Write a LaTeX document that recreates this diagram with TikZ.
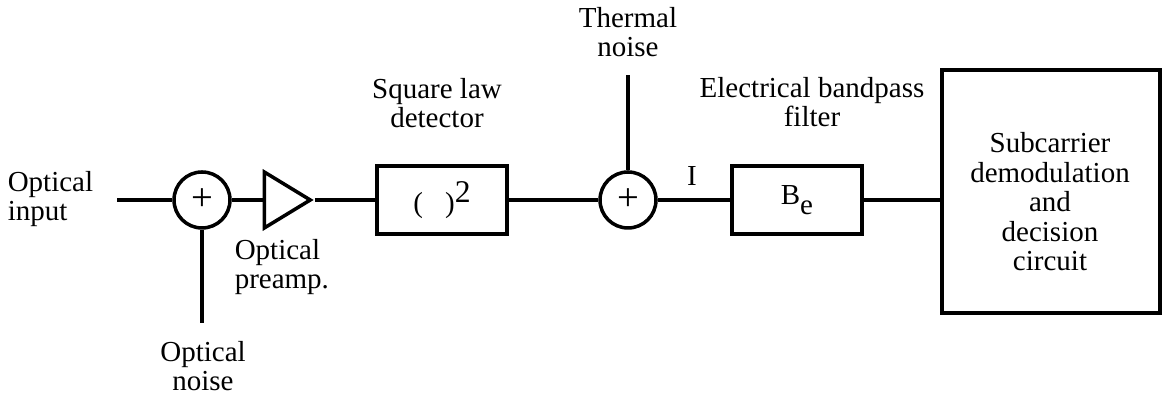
\documentclass[tikz,border=0pt]{standalone}
\usepackage{fontspec}
\setmainfont{Liberation Serif}
\usetikzlibrary{shapes.geometric}
\begin{document}
\begin{tikzpicture}[line width=1pt,
  blk/.style={draw,rectangle,minimum width=1.30cm,minimum height=0.68cm,inner sep=0pt},
  sum/.style={draw,circle,minimum size=0.56cm,inner sep=0pt,font=\fontsize{11}{11}\selectfont},
  lbl/.style={align=center,inner sep=0pt},
  every node/.append style={font=\fontsize{8.25}{8.4}\selectfont}]
\useasboundingbox (0,0) rectangle (11.63,4.02);
\coordinate (in) at (1.17,2.02);
\node[sum] (sum1) at (2.02,2.02) {+};
\node[draw,isosceles triangle,isosceles triangle stretches,minimum width=0.56cm,minimum height=0.46cm,inner sep=0pt] (amp) at (2.80,2.02) {};
\node[blk] (sq) at (4.42,2.02) {(\hspace{0.22cm})\raisebox{0.8ex}{\fontsize{9}{9}\selectfont 2}};
\node[sum] (sum2) at (6.28,2.02) {+};
\node[blk] (filt) at (7.97,2.02) {B\raisebox{-0.8ex}{e}};
\node[draw,rectangle,minimum width=2.18cm,minimum height=2.43cm] (dec) at (10.51,2.105) {};
\node[lbl] (dectxt) at (10.50,2.00) {Subcarrier\\demodulation\\and\\decision\\circuit};
\coordinate (onoise) at (2.02,0.79);
\coordinate (tnoise) at (6.28,3.27);
\draw (in) -- (sum1) -- (amp) -- (sq) -- (sum2) -- (filt);
\draw (filt) -- (filt -| dec.west);
\draw (sum1) -- (onoise);
\draw (sum2) -- (tnoise);
\node[lbl,align=left,anchor=west] (inlbl) at (0.06,2.03) {Optical\\input};
\node[lbl,align=left,anchor=west] (amplbl) at (2.33,1.35) {Optical\\preamp.};
\node[lbl] (onlbl) at (2.03,0.36) {Optical\\noise};
\node[lbl] (sqlbl) at (4.37,2.99) {Square law\\detector};
\node[lbl] (tnlbl) at (6.28,3.70) {Thermal\\noise};
\node[lbl] (ilbl) at (6.92,2.26) {I};
\node[lbl] (filtlbl) at (8.12,3.00) {Electrical bandpass\\filter};
\end{tikzpicture}
\end{document}
